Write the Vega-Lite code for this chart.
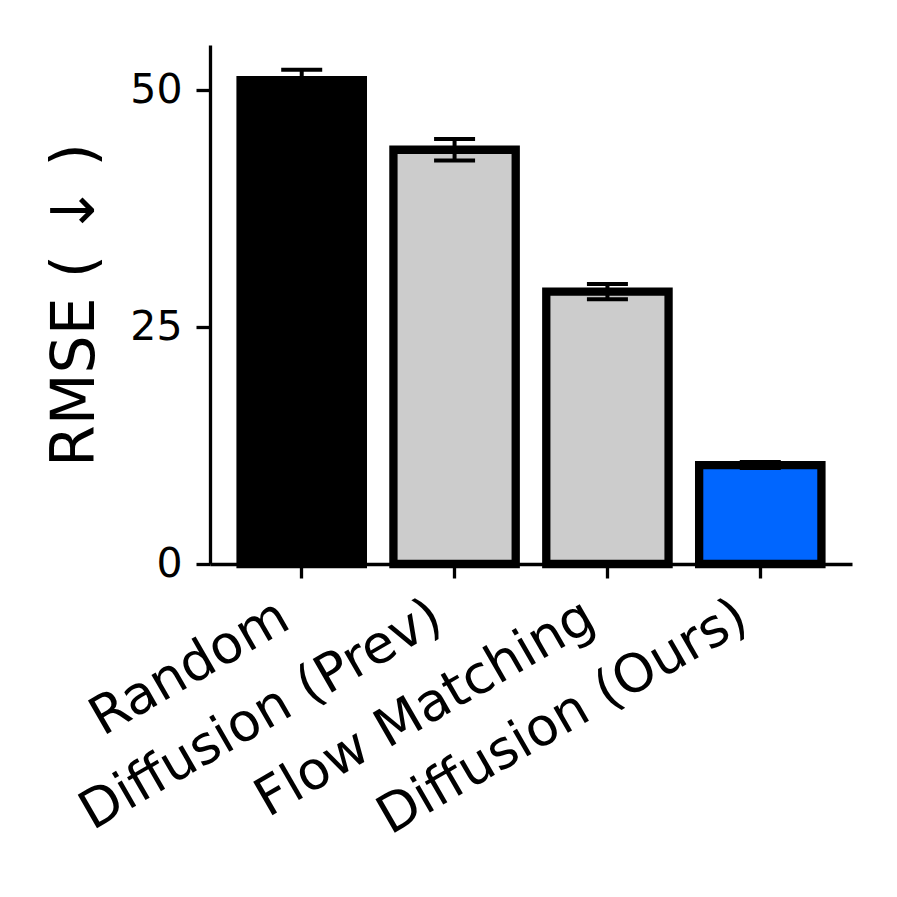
{
  "$schema": "https://vega.github.io/schema/vega-lite/v6.json",
  "autosize": {"type": "none"},
  "width": 642,
  "height": 519,
  "padding": {"left": 210, "top": 45, "right": 45, "bottom": 333},
  "background": "white",
  "config": {
    "view": {"stroke": null},
    "font": "DejaVu Sans",
    "axis": {"labelFont": "DejaVu Sans", "titleFont": "DejaVu Sans", "labelColor": "black", "titleColor": "black", "domainColor": "black", "tickColor": "black", "grid": false}
  },
  "data": {
    "values": [
      {"method": "Random", "rmse": 51.05, "err": 1.1},
      {"method": "Diffusion (Prev)", "rmse": 43.7, "err": 1.13},
      {"method": "Flow Matching", "rmse": 28.74, "err": 0.81},
      {"method": "Diffusion (Ours)", "rmse": 10.44, "err": 0.32}
    ]
  },
  "encoding": {
    "x": {
      "field": "method", "type": "nominal", "sort": null,
      "scale": {"paddingInner": 0.2, "paddingOuter": 0.2},
      "axis": {
        "title": null, "labelAngle": -30, "labelAlign": "right", "labelBaseline": "top",
        "labelFontSize": 53, "labelPadding": 12, "labelOffset": -30,
        "tickSize": 14, "tickWidth": 3.3, "domainWidth": 3.3, "labelLimit": 700
      }
    },
    "y": {
      "field": "rmse", "type": "quantitative",
      "scale": {"domain": [0, 54.75], "nice": false},
      "axis": {
        "title": "RMSE ( ↓ )", "titleFontSize": 60, "titleFontWeight": "normal", "titlePadding": 23,
        "values": [0, 25, 50], "labelFontSize": 41, "labelPadding": 14,
        "tickSize": 14, "tickWidth": 3.3, "domainWidth": 3.3
      }
    }
  },
  "layer": [
    {
      "mark": {"type": "bar", "stroke": "black", "strokeWidth": 8.3},
      "encoding": {
        "fill": {
          "field": "method", "type": "nominal", "legend": null,
          "scale": {"domain": ["Random", "Diffusion (Prev)", "Flow Matching", "Diffusion (Ours)"], "range": ["#000000", "#cccccc", "#cccccc", "#0066ff"]}
        }
      }
    },
    {
      "mark": {"type": "errorbar", "color": "black", "opacity": 1, "thickness": 4, "rule": {"opacity": 1, "color": "black"}, "ticks": {"size": 41, "thickness": 4, "color": "black", "opacity": 1}},
      "encoding": {
        "yError": {"field": "err"}
      }
    }
  ]
}
